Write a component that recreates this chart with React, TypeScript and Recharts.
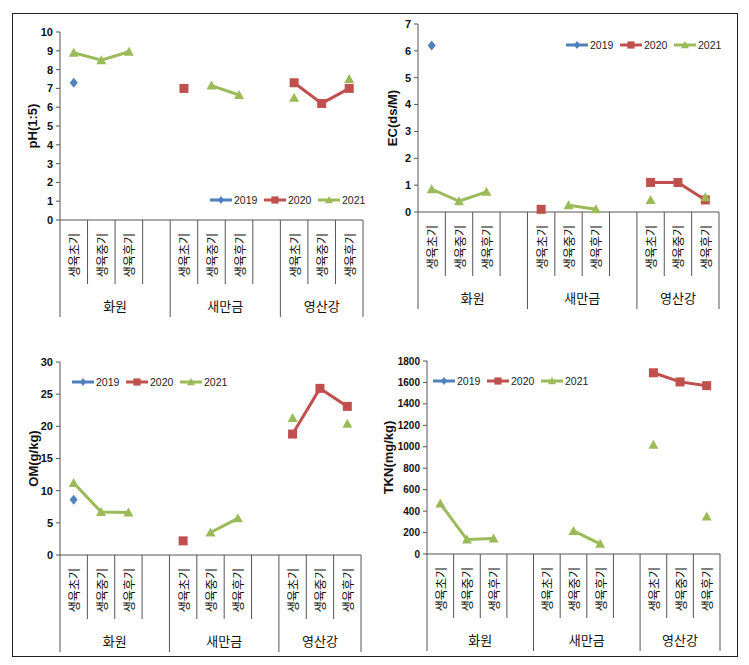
import React from 'react';
import { LineChart, Line, XAxis, YAxis, Legend } from 'recharts';

// x categories: three stages per site, a blank slot between sites
const stages = ['생육초기', '생육중기', '생육후기', '', '생육초기', '생육중기', '생육후기', '', '생육초기', '생육중기', '생육후기'];
const sites = [
  { name: '화원', from: 0, to: 3 },
  { name: '새만금', from: 4, to: 7 },
  { name: '영산강', from: 8, to: 10 },
];
const years = ['2019', '2020', '2021'];

const ph2019 = [7.3, null, null, null, null, null, null, null, null, null, null];
const ph2020 = [null, null, null, null, 7.0, null, null, null, 7.3, 6.2, 7.0];
const ph2021 = [8.9, 8.5, 8.95, null, null, 7.15, 6.65, null, 6.5, null, 7.5];

const ec2019 = [6.2, null, null, null, null, null, null, null, null, null, null];
const ec2020 = [null, null, null, null, 0.1, null, null, null, 1.1, 1.1, 0.45];
const ec2021 = [0.85, 0.4, 0.75, null, null, 0.25, 0.1, null, 0.45, null, 0.55];

const om2019 = [8.6, null, null, null, null, null, null, null, null, null, null];
const om2020 = [null, null, null, null, 2.2, null, null, null, 18.8, 25.9, 23.1];
const om2021 = [11.2, 6.7, 6.6, null, null, 3.5, 5.7, null, 21.3, null, 20.4];

const tkn2019 = [null, null, null, null, null, null, null, null, null, null, null];
const tkn2020 = [null, null, null, null, null, null, null, null, 1690, 1605, 1570];
const tkn2021 = [470, 135, 145, null, null, 215, 95, null, 1020, null, 350];

const phTicks = [0, 1, 2, 3, 4, 5, 6, 7, 8, 9, 10];
const ecTicks = [0, 1, 2, 3, 4, 5, 6, 7];
const omTicks = [0, 5, 10, 15, 20, 25, 30];
const tknTicks = [0, 200, 400, 600, 800, 1000, 1200, 1400, 1600, 1800];

const COLORS = ['#4F81BD', '#C0504D', '#9BBB59'];
const AXIS = '#555';
const SHORT_LINE = 64;
const LONG_LINE = 97;

const buildRows = (a: (number | null)[], b: (number | null)[], c: (number | null)[]) =>
  stages.map((s, i) => ({ i, y2019: a[i], y2020: b[i], y2021: c[i] }));

function Marker({ kind, cx, cy, color, s = 1 }: any) {
  if (kind === 0) {
    const w = 4 * s, h = 5 * s;
    return <polygon points={`${cx},${cy - h} ${cx + w},${cy} ${cx},${cy + h} ${cx - w},${cy}`} fill={color} />;
  }
  if (kind === 1) {
    const h = 4.5 * s;
    return <rect x={cx - h} y={cy - h} width={h * 2} height={h * 2} fill={color} />;
  }
  const w = 5 * s;
  return <polygon points={`${cx},${cy - w} ${cx + w},${cy + w * 0.8} ${cx - w},${cy + w * 0.8}`} fill={color} />;
}

const dotFor = (kind: number) => (p: any) => {
  if (p.cx == null || p.cy == null || p.value == null) return <g key={p.index} />;
  return <Marker key={p.index} kind={kind} cx={p.cx} cy={p.cy} color={COLORS[kind]} />;
};

function LegendBox() {
  return (
    <svg width={170} height={14} style={{ display: 'block' }}>
      {years.map((y, k) => {
        const x0 = k * 54;
        return (
          <g key={y}>
            <line x1={x0} x2={x0 + 22} y1={7} y2={7} stroke={COLORS[k]} strokeWidth={3} />
            <Marker kind={k} cx={x0 + 11} cy={7} color={COLORS[k]} s={0.8} />
            <text x={x0 + 24} y={7} dominantBaseline="central" fontSize={10.5} fill="#222"
              fontFamily="'Liberation Sans', Arial, sans-serif">{y}</text>
          </g>
        );
      })}
    </svg>
  );
}

function makeXTick(band: number) {
  return (props: any) => {
    const { x, y, payload } = props;
    const i = payload.value as number;
    const site = sites.find((g) => i >= g.from && i <= g.to)!;
    const right = x + band / 2;
    const isEnd = i === site.to;
    return (
      <g>
        {i === 0 && <line x1={x - band / 2} x2={x - band / 2} y1={y} y2={y + LONG_LINE} stroke={AXIS} />}
        <line x1={right} x2={right} y1={y} y2={y + (isEnd ? LONG_LINE : SHORT_LINE)} stroke={AXIS} />
        {stages[i] && (
          <text transform={`translate(${x},${y + 13}) rotate(-90)`} textAnchor="end" dominantBaseline="central"
            fontSize={12} fill="#111">{stages[i]}</text>
        )}
        {i === site.from && (
          <text x={x - band / 2 + ((site.to - site.from + 1) * band) / 2} y={y + 85} textAnchor="middle"
            dominantBaseline="central" fontSize={13} fill="#111">{site.name}</text>
        )}
      </g>
    );
  };
}

function YTitle(props: any) {
  const { viewBox, text, dx } = props;
  const cx = viewBox.x + dx;
  const cy = viewBox.y + viewBox.height / 2;
  return (
    <text transform={`translate(${cx},${cy}) rotate(-90)`} textAnchor="middle" dominantBaseline="central"
      fontSize={13} fontWeight="bold" fill="#111" fontFamily="'Liberation Sans', Arial, sans-serif">{text}</text>
  );
}

interface PanelProps {
  box: { left: number; top: number; w: number; h: number };
  plot: { x0: number; x1: number; y0: number; y1: number };
  rows: any[];
  ticks: number[];
  title: string;
  titleX: number;
  legend: { x: number; y: number };
  tickSize?: number;
}

function Panel({ box, plot, rows, ticks, title, titleX, legend, tickSize = 11 }: PanelProps) {
  const band = (plot.x1 - plot.x0) / stages.length;
  const yW = plot.x0 - box.left;
  const xH = box.top + box.h - plot.y1;
  return (
    <div style={{ position: 'absolute', left: box.left, top: box.top }}>
      <LineChart width={box.w} height={box.h} data={rows}
        margin={{ top: plot.y0 - box.top, right: box.left + box.w - plot.x1, left: 0, bottom: 0 }}>
        <XAxis dataKey="i" type="number" domain={[-0.5, stages.length - 0.5]} ticks={stages.map((_, i) => i)}
          interval={0} height={xH} tickLine={false} tickSize={0} tickMargin={0}
          axisLine={{ stroke: AXIS }} tick={makeXTick(band)} />
        <YAxis width={yW} domain={[ticks[0], ticks[ticks.length - 1]]} ticks={ticks} interval={0}
          tickSize={4} tickMargin={3} axisLine={{ stroke: AXIS }} tickLine={{ stroke: AXIS }}
          tick={{ fontSize: tickSize, fontWeight: 'bold', fill: '#111', fontFamily: "'Liberation Sans', Arial, sans-serif" }}
          label={<YTitle text={title} dx={titleX} />} />
        <Legend layout="horizontal" verticalAlign="middle" align="center"
          wrapperStyle={{ left: legend.x - box.left, top: legend.y - box.top - 7, width: 170, height: 14 }}
          content={() => <LegendBox />} />
        {years.map((y, k) => (
          <Line key={y} dataKey={`y${y}`} stroke={COLORS[k]} strokeWidth={3} dot={dotFor(k)}
            activeDot={false} connectNulls={false} isAnimationActive={false} />
        ))}
      </LineChart>
    </div>
  );
}

export default function App() {
  return (
    <div style={{ position: 'absolute', left: 0, top: 0, width: 749, height: 665, background: '#fff',
      fontFamily: "'Noto Sans CJK KR', sans-serif" }}>
      <div style={{ position: 'absolute', left: 12, top: 13, width: 726, height: 644, border: '1px solid #222',
        boxSizing: 'border-box' }} />
      <Panel box={{ left: 13, top: 14, w: 360, h: 311 }} plot={{ x0: 60, x1: 363, y0: 32, y1: 220 }}
        rows={buildRows(ph2019, ph2020, ph2021)} ticks={phTicks} title="pH(1:5)" titleX={19}
        legend={{ x: 210, y: 200 }} />
      <Panel box={{ left: 376, top: 14, w: 360, h: 311 }} plot={{ x0: 418, x1: 719, y0: 24, y1: 212 }}
        rows={buildRows(ec2019, ec2020, ec2021)} ticks={ecTicks} title="EC(ds/M)" titleX={16}
        legend={{ x: 566, y: 45 }} />
      <Panel box={{ left: 13, top: 340, w: 360, h: 316 }} plot={{ x0: 60, x1: 361, y0: 362, y1: 555 }}
        rows={buildRows(om2019, om2020, om2021)} ticks={omTicks} title="OM(g/kg)" titleX={20}
        legend={{ x: 72, y: 382 }} />
      <Panel box={{ left: 376, top: 340, w: 360, h: 316 }} plot={{ x0: 427, x1: 720, y0: 361, y1: 554 }}
        rows={buildRows(tkn2019, tkn2020, tkn2021)} ticks={tknTicks} title="TKN(mg/kg)" titleX={12}
        legend={{ x: 433, y: 381 }} tickSize={10} />
    </div>
  );
}
